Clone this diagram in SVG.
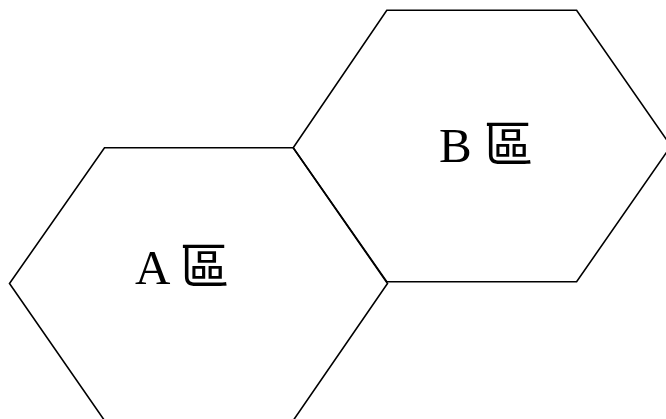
<svg xmlns="http://www.w3.org/2000/svg" width="666" height="419" viewBox="0 0 666 419">
<style>
.hex{fill:none;stroke:#000;stroke-width:1.6;stroke-linejoin:miter}
.lbl{font-family:"Liberation Serif","Noto Sans CJK TC",serif;font-size:49px;fill:#000}
</style>
<rect width="666" height="419" fill="#fff"/>
<g id="zoneA">
<polygon class="hex" points="104.5,147.8 293.2,147.8 387.5,283.5 293.2,420.5 104.5,420.5 9.5,283.5"/>
<text class="lbl" x="135" y="284">A 區</text>
</g>
<g id="zoneB">
<polygon class="hex" points="386.8,10.3 576.6,10.3 671,146 576.6,281.7 386.8,281.7 293.2,147.8"/>
<text class="lbl" x="439" y="162">B 區</text>
</g>
<g id="connectors"></g>
</svg>
